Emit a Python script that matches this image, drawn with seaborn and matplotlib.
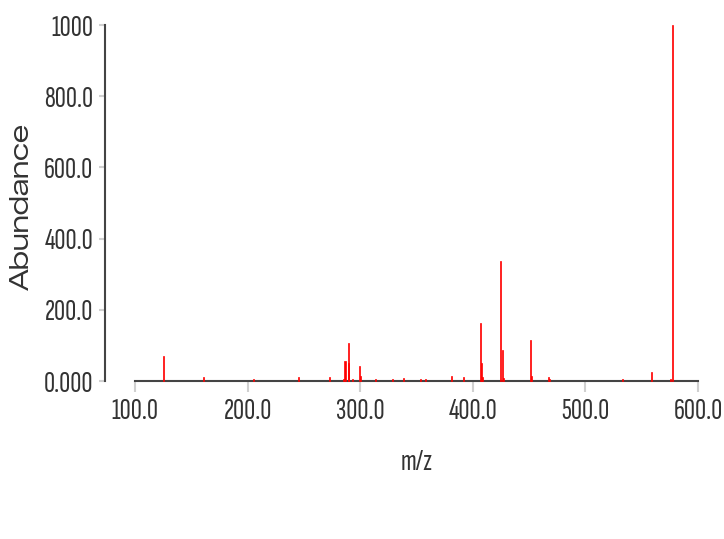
import numpy as np
import pandas as pd
import matplotlib
matplotlib.use("Agg")
import matplotlib.pyplot as plt
import seaborn as sns

# ---- data ----
mz = [124.9, 161.0, 205.0, 245.6, 273.0, 285.0, 286.5, 289.2, 290.0, 293.3,
      299.0, 300.0, 313.7, 328.8, 338.3, 353.7, 358.0, 381.2, 391.6, 407.0,
      408.0, 408.8, 425.0, 426.0, 427.0, 451.0, 452.0, 467.3, 468.2, 532.8,
      559.1, 576.0, 577.2]
abundance = [70, 11, 7, 11, 11, 6, 57, 108, 50, 7,
             43, 14, 7, 6, 9, 6, 6, 14, 10, 162,
             50, 12, 338, 87, 9, 115, 14, 12, 7, 7,
             24, 6, 1000]
x_ticks = [100, 200, 300, 400, 500, 600]
x_tick_labels = ["100.0", "200.0", "300.0", "400.0", "500.0", "600.0"]
y_ticks = [0, 200, 400, 600, 800, 1000]
y_tick_labels = ["0.000", "200.0", "400.0", "600.0", "800.0", "1000"]
x_label = "m/z"
y_label = "Abundance"

df = pd.DataFrame({"mz": mz, "abundance": abundance})

sns.set_theme(style="white")

narrow = dict(family=["Sofia Sans Extra Condensed", "Fira Sans Extra Condensed", "DejaVu Sans"], size=22)
wide = dict(family=["Zalando Sans Expanded", "Encode Sans Expanded", "DejaVu Sans"],
            stretch="expanded", size=18.5)
text_c = "#333333"
dark, light = "#444444", "#d0d0d0"

fig = plt.figure(figsize=(7.24, 5.39), dpi=100)
ax = fig.add_axes([135 / 724, 1 - 381 / 539, 563 / 724, 356 / 539])

bar_w = 0.9 / np.min(np.diff(np.unique(df["mz"])))
sns.barplot(data=df, x="mz", y="abundance", native_scale=True, color="#ff0000",
            saturation=1, errorbar=None, width=bar_w, linewidth=0.5,
            edgecolor="#ff0000", ax=ax, zorder=3)
for p in ax.patches:
    p.set_clip_on(False)

ax.set_xlim(100, 600)
ax.set_ylim(0, 1000)

for s in ["top", "right"]:
    ax.spines[s].set_visible(False)
for s in ["left", "bottom"]:
    ax.spines[s].set_color(dark)
    ax.spines[s].set_linewidth(1.5)
    ax.spines[s].set_zorder(2)
ax.spines["left"].set_position(("outward", 21.6))

ax.set_xticks(x_ticks)
ax.set_xticklabels(x_tick_labels, color=text_c, **narrow)
ax.set_yticks(y_ticks)
ax.set_yticklabels(y_tick_labels, color=text_c, **narrow)
# end ticks drawn dark on top of the light ones
ax.set_xticks([x_ticks[0], x_ticks[-1]], minor=True)
ax.set_yticks([y_ticks[0], y_ticks[-1]], minor=True)
ax.tick_params(axis="x", which="both", direction="out", length=8, width=1.5, pad=4.5, bottom=True)
ax.tick_params(axis="y", which="both", direction="out", length=4.3, width=1.5, pad=4, left=True)
ax.tick_params(which="major", color=light)
ax.tick_params(which="minor", color=dark, labelbottom=False, labelleft=False)

ax.set_xlabel(x_label, color=text_c, **narrow)
ax.xaxis.set_label_coords(0.5, -0.19)
ax.set_ylabel(y_label, color=text_c, **wide)
ax.yaxis.set_label_coords(-0.18, 0.49)
ax.grid(False)

fig.savefig("out.png", dpi=100, facecolor="white")
